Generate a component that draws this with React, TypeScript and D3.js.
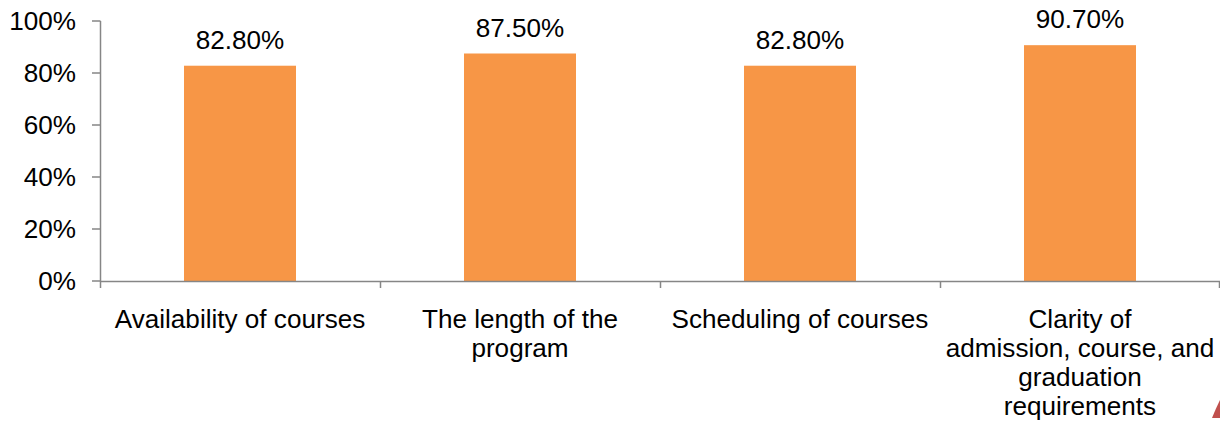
import React from "react";
import * as d3 from "d3";

// Survey satisfaction by program aspect
const categories = [
  "Availability of courses",
  "The length of the program",
  "Scheduling of courses",
  "Clarity of admission, course, and graduation requirements",
];
const categoryLines = [
  ["Availability of courses"],
  ["The length of the", "program"],
  ["Scheduling of courses"],
  ["Clarity of", "admission, course, and", "graduation", "requirements"],
];
const values = [0.828, 0.875, 0.828, 0.907];
const yTicks = [0, 0.2, 0.4, 0.6, 0.8, 1.0];

const W = 1220;
const H = 426;
const FONT = "'Liberation Sans', Arial, Helvetica, sans-serif";
const AXIS = "#868686";
const BAR = "#F79646";
const FS = 25;
const SX = 1.045; // slight horizontal text stretch

export default function App() {
  const x = d3.scaleBand<string>().domain(categories).range([100, 1220]).padding(0);
  const y = d3.scaleLinear().domain([0, 1]).range([281, 21]);
  const bw = x.bandwidth();
  const pct = d3.format(".2%");
  const tickFmt = d3.format(".0%");
  const boundaries = [...categories.map((c) => x(c) as number), 1220];

  return (
    <svg
      width={W}
      height={H}
      viewBox={`0 0 ${W} ${H}`}
      style={{ position: "absolute", left: 0, top: 0, background: "#fff" }}
      fontFamily={FONT}
    >
      {/* bars */}
      {categories.map((c, i) => (
        <rect
          key={c}
          x={(x(c) as number) + bw * 0.3}
          y={y(values[i])}
          width={bw * 0.4}
          height={y(0) - y(values[i])}
          fill={BAR}
        />
      ))}

      {/* y axis */}
      <line x1={100.5} x2={100.5} y1={y(1)} y2={y(0)} stroke={AXIS} strokeWidth={1.5} />
      {yTicks.map((t) => (
        <g key={t}>
          <line x1={92} x2={100.5} y1={y(t)} y2={y(t)} stroke={AXIS} strokeWidth={1.5} />
          <text
            transform={`translate(76,${y(t) + 9}) scale(${SX},1)`}
            textAnchor="end"
            fontSize={FS}
            fill="#000"
          >
            {tickFmt(t)}
          </text>
        </g>
      ))}

      {/* x axis */}
      <line x1={100} x2={1220} y1={y(0) + 0.5} y2={y(0) + 0.5} stroke={AXIS} strokeWidth={1.5} />
      {boundaries.map((b, i) => (
        <line
          key={i}
          x1={Math.min(b + 0.5, 1219.5)}
          x2={Math.min(b + 0.5, 1219.5)}
          y1={y(0)}
          y2={y(0) + 7}
          stroke={AXIS}
          strokeWidth={1.5}
        />
      ))}

      {/* value labels */}
      {categories.map((c, i) => (
        <text
          key={c}
          transform={`translate(${(x(c) as number) + bw / 2},${y(values[i]) - 17}) scale(${SX},1)`}
          textAnchor="middle"
          fontSize={FS}
          fill="#000"
        >
          {pct(values[i])}
        </text>
      ))}

      {/* category labels */}
      {categories.map((c, i) => (
        <g key={c}>
          {categoryLines[i].map((line, j) => (
            <text
              key={j}
              transform={`translate(${(x(c) as number) + bw / 2},${328 + j * 29}) scale(${SX},1)`}
              textAnchor="middle"
              fontSize={FS}
              fill="#000"
            >
              {line}
            </text>
          ))}
        </g>
      ))}

      {/* decorative corner mark */}
      <path d="M1212,418 Q1216,408 1220,400 L1220,418 Z" fill="#C0504D" />
    </svg>
  );
}
